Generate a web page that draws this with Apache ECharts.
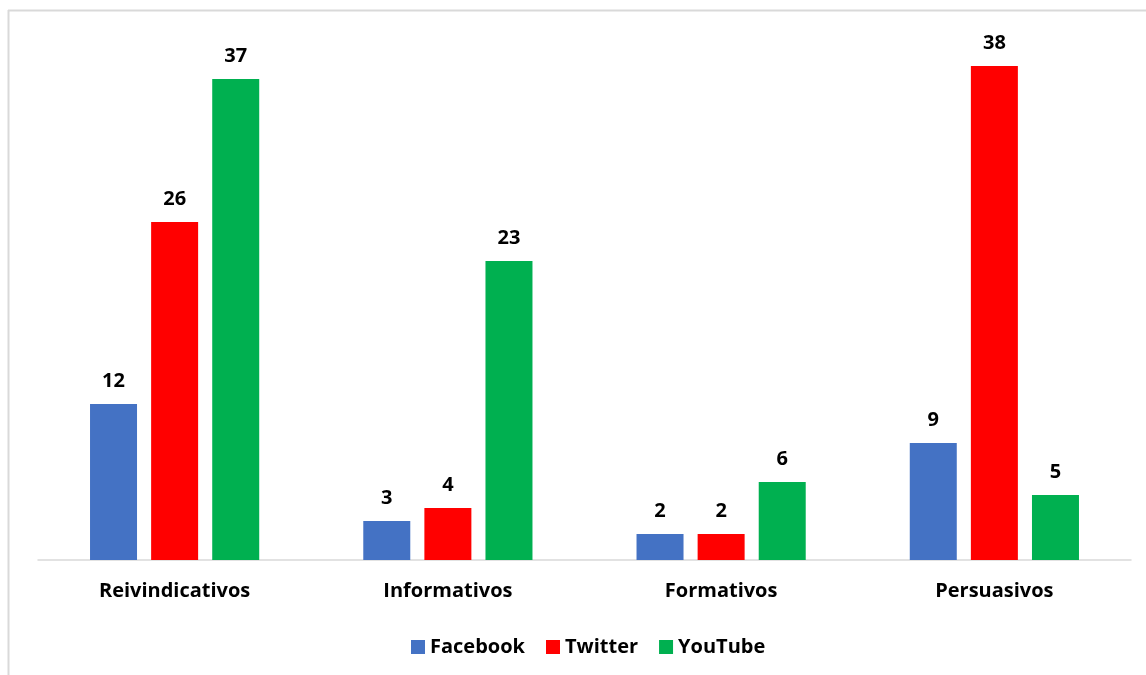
<!DOCTYPE html>
<html><head><meta charset="utf-8">
<script src="https://cdn.jsdelivr.net/npm/echarts@6/dist/echarts.min.js"></script>
<style>html,body{margin:0;padding:0;background:#fff}#c{width:1146px;height:675px}</style>
</head><body><div id="c"></div>
<script>
const categories = ['Reivindicativos', 'Informativos', 'Formativos', 'Persuasivos'];
const facebook = [12, 3, 2, 9];
const twitter = [26, 4, 2, 38];
const youtube = [37, 23, 6, 5];
const seriesNames = ['Facebook', 'Twitter', 'YouTube'];
const colors = ['#4472C4', '#FF0000', '#00B050'];

const font = '"Open Sans", "Noto Sans", sans-serif';
const chart = echarts.init(document.getElementById('c'), null, {renderer: 'canvas'});
const mk = (name, data, color) => ({
  name, type: 'bar', data, barWidth: 47, barGap: '30%',
  itemStyle: {color},
  label: {show: true, position: 'top', distance: 13, color: '#000', fontWeight: 'bold', fontSize: 20, fontFamily: font}
});
chart.setOption({
  animation: false,
  color: colors,
  grid: {left: 38, right: 15, top: 40, bottom: 115},
  xAxis: {
    type: 'category', data: categories,
    axisLine: {lineStyle: {color: '#d9d9d9', width: 1.5}},
    axisTick: {show: false},
    axisLabel: {color: '#000', fontWeight: 'bold', fontSize: 20, fontFamily: font, margin: 21}
  },
  yAxis: {type: 'value', min: 0, max: 40, interval: 10, show: false, splitLine: {show: false}},
  legend: {
    data: seriesNames, left: 406, top: 632, itemWidth: 14, itemHeight: 14, itemGap: 21,
    icon: 'rect',
    textStyle: {color: '#000', fontWeight: 'bold', fontSize: 20, fontFamily: font}
  },
  graphic: [
    {type: 'line', shape: {x1: 8.5, y1: 10, x2: 8.5, y2: 675}, style: {stroke: '#d9d9d9', lineWidth: 2}},
    {type: 'line', shape: {x1: 8, y1: 10.5, x2: 1146, y2: 10.5}, style: {stroke: '#d9d9d9', lineWidth: 2}}
  ],
  series: [mk(seriesNames[0], facebook, colors[0]), mk(seriesNames[1], twitter, colors[1]), mk(seriesNames[2], youtube, colors[2])]
});
</script></body></html>
